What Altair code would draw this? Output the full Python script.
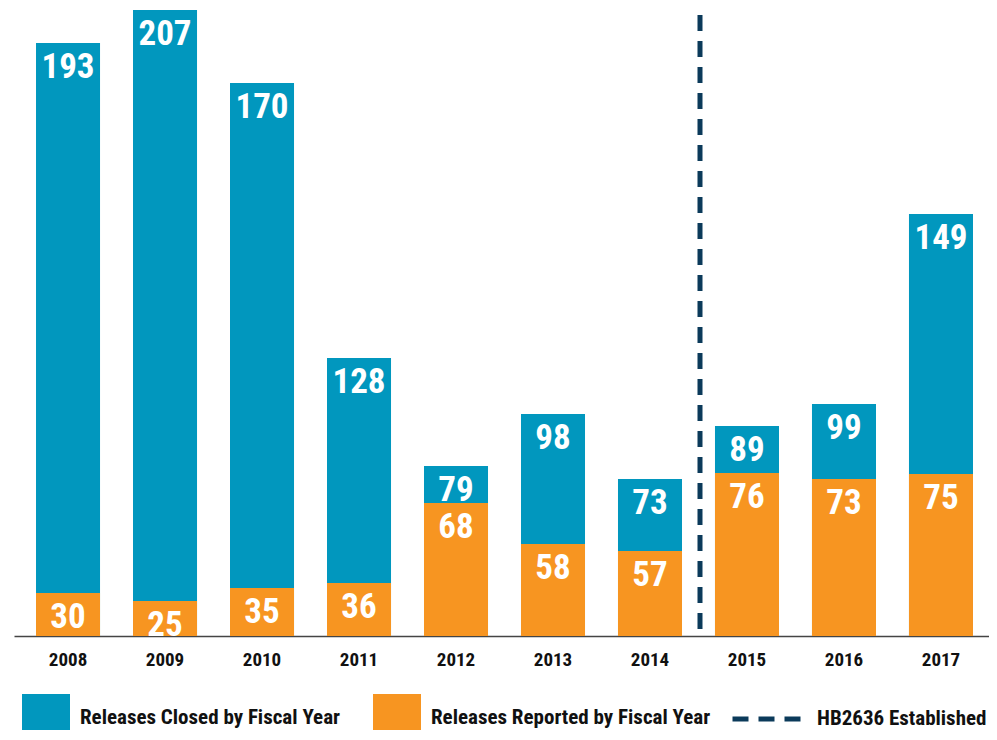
import altair as alt
import pandas as pd

# ---- data ----
years = ["2008", "2009", "2010", "2011", "2012", "2013", "2014", "2015", "2016", "2017"]
closed = [193, 207, 170, 128, 79, 98, 73, 89, 99, 149]
reported = [30, 25, 35, 36, 68, 58, 57, 76, 73, 75]
# bar extents as drawn in the (not-to-scale) infographic, in drawing units above the baseline
closed_bar = [593, 626, 553, 278, 170, 222, 157, 210, 232, 422]
reported_bar = [43, 35, 48, 53, 133, 92, 85, 163, 157, 162]
marker_year = "2014"
marker_top = 621

CLOSED = "Releases Closed by Fiscal Year"
REPORTED = "Releases Reported by Fiscal Year"
MARKER = "HB2636 Established"

BLUE = "#0197be"
ORANGE = "#f79521"
NAVY = "#0b3a5a"
FONT = "Roboto Condensed"

PLOT_W = 975
PLOT_H = 626

rows = []
for y, v, t in zip(years, closed, closed_bar):
    rows.append({"year": y, "series": CLOSED, "top": t, "value": v})
for y, v, t in zip(years, reported, reported_bar):
    rows.append({"year": y, "series": REPORTED, "top": t, "value": v})
df = pd.DataFrame(rows)
df_marker = pd.DataFrame({"year": [marker_year], "top": [marker_top], "label": [MARKER]})

xscale = alt.Scale(domain=years, range=[0, PLOT_W], paddingInner=0.34, paddingOuter=0.196, align=0.579)
yscale = alt.Scale(domain=[0, 626], nice=False, zero=True)

x_enc = alt.X(
    "year:N",
    scale=xscale,
    sort=years,
    axis=alt.Axis(
        title=None,
        ticks=False,
        grid=False,
        domainColor="#444444",
        domainWidth=1.6,
        labelAngle=0,
        labelFont=FONT,
        labelFontSize=19,
        labelFontWeight="bold",
        labelColor="#111111",
        labelPadding=14,
    ),
)
y_enc = alt.Y("top:Q", scale=yscale, axis=None)

color_enc = alt.Color(
    "series:N",
    scale=alt.Scale(domain=[CLOSED, REPORTED], range=[BLUE, ORANGE]),
    legend=alt.Legend(
        title=None,
        orient="none",
        legendX=8,
        legendY=684,
        direction="horizontal",
        symbolType="square",
        symbolSize=2304,
        symbolStrokeWidth=0,
        symbolOpacity=1,
        labelFont=FONT,
        labelFontSize=21,
        labelFontWeight="bold",
        labelColor="#111111",
        labelOffset=10,
        labelLimit=500,
        columnPadding=32,
        padding=0,
    ),
)

base = alt.Chart(df)

bars_closed = base.transform_filter(alt.datum.series == CLOSED).mark_bar(opacity=1).encode(
    x=x_enc, y=y_enc, y2=alt.datum(0), color=color_enc
)
bars_reported = base.transform_filter(alt.datum.series == REPORTED).mark_bar(opacity=1).encode(
    x=x_enc, y=y_enc, y2=alt.datum(0), color=color_enc
)

labels = base.mark_text(
    font=FONT,
    fontSize=35,
    fontWeight="bold",
    color="white",
    baseline="alphabetic",
    align="center",
    dy=35,
).encode(x=x_enc, y=y_enc, text=alt.Text("value:Q"))

marker = alt.Chart(df_marker).mark_rule(strokeWidth=5, color=NAVY, xOffset=50).encode(
    x=x_enc,
    y=y_enc,
    y2=alt.datum(0),
    strokeDash=alt.StrokeDash(
        "label:N",
        scale=alt.Scale(domain=[MARKER], range=[[16, 10]]),
        legend=alt.Legend(
            title=None,
            orient="none",
            legendX=716,
            legendY=668,
            symbolType="stroke",
            symbolSize=5929,
            symbolStrokeWidth=5,
            symbolStrokeColor=NAVY,
            symbolDash=[17, 13],
            labelFont=FONT,
            labelFontSize=21,
            labelFontWeight="bold",
            labelColor="#111111",
            labelOffset=5,
            labelLimit=500,
            padding=0,
        ),
    ),
)

chart = (
    alt.layer(bars_closed, bars_reported, labels, marker)
    .properties(
        width=PLOT_W,
        height=PLOT_H,
        padding={"left": 6, "top": 2, "right": 0, "bottom": 94},
        autosize=alt.AutoSizeParams(type="none"),
        background="white",
    )
    .configure_view(stroke=None)
)

chart.save("out.html", embed_options={"renderer": "svg", "actions": False})
